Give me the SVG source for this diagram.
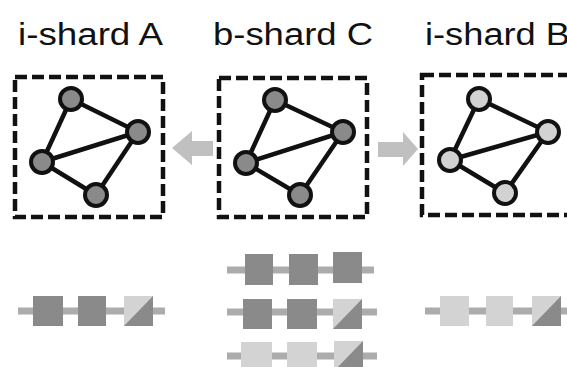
<svg xmlns="http://www.w3.org/2000/svg" width="567" height="367" viewBox="0 0 567 367">
  <style>
    .title { font-family: "Liberation Sans", Arial, sans-serif; font-size: 31px; fill: #111; }
    .box { fill: none; stroke: #111; stroke-width: 4.5; stroke-dasharray: 12 5; }
    .edge { stroke: #111; stroke-width: 4.5; stroke-linecap: round; }
    .vtx-dark { fill: #8a8a8a; stroke: #111; stroke-width: 4; }
    .vtx-light { fill: #d2d2d2; stroke: #111; stroke-width: 4; }
    .chain { stroke: #acacac; stroke-width: 7; }
    .blk-dark { fill: #8a8a8a; }
    .blk-light { fill: #d3d3d3; }
    .arrow { fill: #c0c0c0; }
  </style>
  <defs>
    <!-- split block: light upper-left, dark lower-right -->
    <g id="split">
      <rect x="0" y="0" width="29" height="30" class="blk-light"/>
      <polygon points="0,30 29,0 29,30" class="blk-dark"/>
    </g>
  </defs>
  <rect width="567" height="367" fill="#fff"/>

  <!-- titles -->
  <text class="title" x="18" y="45" textLength="145" lengthAdjust="spacingAndGlyphs">i-shard A</text>
  <text class="title" x="213" y="45" textLength="160" lengthAdjust="spacingAndGlyphs">b-shard C</text>
  <text class="title" x="425" y="45" textLength="145" lengthAdjust="spacingAndGlyphs">i-shard B</text>

  <!-- shard A graph -->
  <g id="shard-a">
    <rect class="box" x="15" y="77" width="148" height="140"/>
    <line class="edge" x1="71" y1="99" x2="138" y2="132"/>
    <line class="edge" x1="71" y1="99" x2="42" y2="162"/>
    <line class="edge" x1="42" y1="162" x2="138" y2="132"/>
    <line class="edge" x1="42" y1="162" x2="96" y2="195"/>
    <line class="edge" x1="96" y1="195" x2="138" y2="132"/>
    <circle class="vtx-dark" cx="71" cy="99" r="11"/>
    <circle class="vtx-dark" cx="138" cy="132" r="11"/>
    <circle class="vtx-dark" cx="42" cy="162" r="11"/>
    <circle class="vtx-dark" cx="96" cy="195" r="11"/>
  </g>

  <!-- shard C graph -->
  <g id="shard-c">
    <rect class="box" x="219" y="78" width="148" height="139"/>
    <line class="edge" x1="275" y1="100" x2="343" y2="132"/>
    <line class="edge" x1="275" y1="100" x2="246" y2="163"/>
    <line class="edge" x1="246" y1="163" x2="343" y2="132"/>
    <line class="edge" x1="246" y1="163" x2="300" y2="195"/>
    <line class="edge" x1="300" y1="195" x2="343" y2="132"/>
    <circle class="vtx-dark" cx="275" cy="100" r="11"/>
    <circle class="vtx-dark" cx="343" cy="132" r="11"/>
    <circle class="vtx-dark" cx="246" cy="163" r="11"/>
    <circle class="vtx-dark" cx="300" cy="195" r="11"/>
  </g>

  <!-- shard B graph -->
  <g id="shard-b">
    <rect class="box" x="422" y="75" width="160" height="140"/>
    <line class="edge" x1="479" y1="99" x2="548" y2="132"/>
    <line class="edge" x1="479" y1="99" x2="450" y2="160"/>
    <line class="edge" x1="450" y1="160" x2="548" y2="132"/>
    <line class="edge" x1="450" y1="160" x2="505" y2="193"/>
    <line class="edge" x1="505" y1="193" x2="548" y2="132"/>
    <circle class="vtx-light" cx="479" cy="99" r="11"/>
    <circle class="vtx-light" cx="548" cy="132" r="11"/>
    <circle class="vtx-light" cx="450" cy="160" r="11"/>
    <circle class="vtx-light" cx="505" cy="193" r="11"/>
  </g>

  <!-- connectors -->
  <g id="connectors">
    <polygon class="arrow" points="213,141 192,141 192,131 172,148 192,165 192,156 213,156"/>
    <polygon class="arrow" points="378,142 403,142 403,132 418,149 403,166 403,157 378,157"/>
  </g>

  <!-- block chains -->
  <g id="chain-a">
    <line class="chain" x1="18" y1="311" x2="165" y2="311"/>
    <rect class="blk-dark" x="33" y="296" width="30" height="30"/>
    <rect class="blk-dark" x="78" y="296" width="28" height="30"/>
    <use href="#split" x="124" y="296"/>
  </g>

  <g id="chain-c">
    <line class="chain" x1="227" y1="270" x2="374" y2="270"/>
    <rect class="blk-dark" x="245" y="254" width="28" height="31"/>
    <rect class="blk-dark" x="289" y="254" width="29" height="31"/>
    <rect class="blk-dark" x="333" y="252" width="29" height="31"/>

    <line class="chain" x1="227" y1="312" x2="377" y2="312"/>
    <rect class="blk-dark" x="243" y="299" width="29" height="30"/>
    <rect class="blk-dark" x="287" y="299" width="30" height="30"/>
    <use href="#split" x="333" y="299"/>

    <line class="chain" x1="227" y1="356" x2="377" y2="356"/>
    <rect class="blk-light" x="241" y="342" width="31" height="30"/>
    <rect class="blk-light" x="287" y="342" width="30" height="30"/>
    <use href="#split" x="334" y="341"/>
  </g>

  <g id="chain-b">
    <line class="chain" x1="425" y1="311" x2="567" y2="311"/>
    <rect class="blk-light" x="440" y="296" width="29" height="30"/>
    <rect class="blk-light" x="486" y="296" width="27" height="30"/>
    <use href="#split" x="532" y="296"/>
  </g>
</svg>
